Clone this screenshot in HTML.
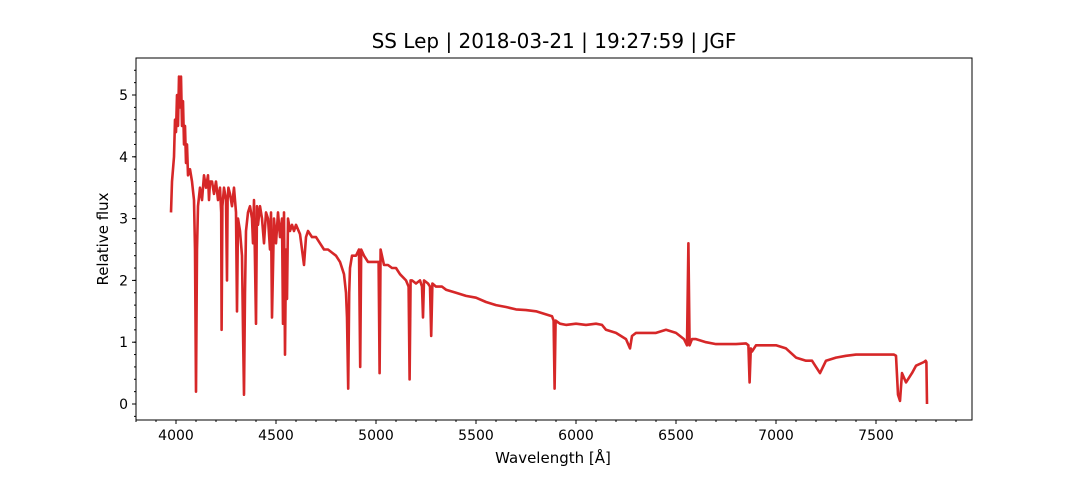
<!DOCTYPE html>
<html><head><meta charset="utf-8"><style>
body{margin:0;background:#fff;font-family:"Liberation Sans","DejaVu Sans",sans-serif}
svg text{font-family:"DejaVu Sans","Liberation Sans",sans-serif}
</style></head><body>
<svg width="1080" height="480" viewBox="0 0 1080 480" id="chart">
<rect width="1080" height="480" fill="#fff"/>
<text x="554" y="48" text-anchor="middle" font-size="20">SS Lep | 2018-03-21 | 19:27:59 | JGF</text>
<g id="marks"></g>
<rect x="136" y="58" width="836" height="362" fill="none" stroke="#000" stroke-width="1"/>
<g id="axes"></g>
<text x="553" y="463" text-anchor="middle" font-size="15">Wavelength [Å]</text>
<text transform="translate(108,239) rotate(-90)" text-anchor="middle" font-size="15">Relative flux</text>
</svg>
<script>
const wavelengths=[
3975,3980,3990,3995,4000,4005,4010,4015,4020,4025,
4030,4035,4040,4045,4050,4055,4060,4070,4080,4090,
4095,4100,4105,4110,4120,4130,4140,4150,4160,4165,
4170,4180,4190,4200,4210,4220,4226,4228,4232,4240,
4250,4255,4258,4262,4270,4280,4290,4300,4305,4310,
4320,4330,4335,4340,4345,4350,4360,4370,4380,4385,
4390,4400,4405,4410,4420,4430,4440,4450,4460,4470,
4475,4480,4490,4500,4510,4520,4530,4535,4540,4545,
4550,4555,4560,4570,4580,4590,4600,4620,4640,4650,
4660,4680,4700,4720,4740,4760,4780,4800,4820,4840,
4850,4855,4861,4866,4870,4880,4900,4915,4921,4926,
4940,4960,4980,5000,5013,5018,5023,5040,5060,5080,
5100,5120,5150,5163,5168,5173,5180,5200,5220,5230,
5235,5240,5260,5270,5276,5282,5300,5330,5350,5400,
5450,5500,5550,5600,5650,5700,5750,5800,5850,5880,
5888,5893,5898,5920,5950,6000,6050,6100,6130,6150,
6200,6250,6270,6280,6300,6350,6400,6450,6500,6540,
6555,6562,6568,6580,6600,6650,6700,6750,6800,6850,
6862,6868,6874,6880,6900,6950,7000,7050,7100,7150,
7180,7200,7220,7250,7300,7350,7400,7450,7500,7550,
7590,7600,7610,7620,7630,7650,7680,7700,7740,7748,
7752,7755];
const fluxes=[
3.1,3.6,4.0,4.6,4.4,5.0,4.5,5.3,4.8,5.3,
4.5,4.9,4.2,4.5,3.9,4.2,3.7,3.8,3.6,3.3,
2.5,0.2,2.5,3.2,3.5,3.3,3.7,3.5,3.7,3.3,
3.6,3.6,3.4,3.6,3.3,3.5,3.1,1.2,3.2,3.5,
3.3,2.0,3.3,3.5,3.4,3.2,3.5,3.1,1.5,3.0,
2.8,2.4,1.2,0.15,1.8,2.8,3.1,3.2,3.0,2.6,
3.3,1.3,3.2,2.9,3.2,3.0,2.6,3.1,3.0,2.5,
3.1,1.4,3.0,2.6,3.1,2.7,3.0,1.3,3.1,0.8,
2.5,1.7,3.0,2.8,2.9,2.8,2.9,2.75,2.25,2.7,
2.8,2.7,2.7,2.6,2.5,2.5,2.45,2.4,2.3,2.1,
1.8,1.4,0.25,1.8,2.2,2.4,2.4,2.5,0.6,2.5,
2.4,2.3,2.3,2.3,2.3,0.5,2.5,2.25,2.25,2.2,
2.2,2.1,2.0,1.9,0.4,2.0,2.0,1.95,2.0,1.9,
1.4,2.0,1.95,1.9,1.1,1.95,1.9,1.9,1.85,1.8,
1.75,1.72,1.65,1.6,1.57,1.53,1.52,1.5,1.45,1.42,
1.35,0.25,1.35,1.3,1.28,1.3,1.28,1.3,1.28,1.2,
1.15,1.05,0.9,1.1,1.15,1.15,1.15,1.2,1.15,1.05,
0.95,2.6,0.95,1.05,1.05,1.0,0.97,0.97,0.97,0.98,
0.95,0.35,0.9,0.85,0.95,0.95,0.95,0.9,0.75,0.7,
0.7,0.6,0.5,0.7,0.75,0.78,0.8,0.8,0.8,0.8,
0.8,0.78,0.15,0.05,0.5,0.35,0.5,0.62,0.68,0.7,
0.68,0.0];
const xTicks=[4000,4500,5000,5500,6000,6500,7000,7500];
const yTicks=[0,1,2,3,4,5];
const xScale=w=>176+(w-4000)*0.2;
const yScale=f=>404-f*61.8;
const NS="http://www.w3.org/2000/svg";
const marks=document.getElementById('marks');
let d="";
const n=Math.min(wavelengths.length,fluxes.length);
for(let i=0;i<n;i++){d+=(i?"L":"M")+xScale(wavelengths[i]).toFixed(1)+","+yScale(fluxes[i]).toFixed(1);}
const p=document.createElementNS(NS,'path');
p.setAttribute('d',d);p.setAttribute('fill','none');p.setAttribute('stroke','#d62728');p.setAttribute('stroke-width','2.6');p.setAttribute('stroke-linejoin','round');


marks.appendChild(p);
const axes=document.getElementById('axes');
function add(tag,attrs,txt){const e=document.createElementNS(NS,tag);for(const k in attrs)e.setAttribute(k,attrs[k]);if(txt!==undefined)e.textContent=txt;axes.appendChild(e);return e;}
xTicks.forEach(t=>{const x=xScale(t);
const l=add('line',{x1:x,x2:x,y1:420,y2:424,stroke:'#000'});


const tx=add('text',{x:x,y:440,'text-anchor':'middle','font-size':14},String(t));

});
for(let w=3800;w<=7950;w+=100){if(w%500===0)continue;const x=xScale(w);add('line',{x1:x,x2:x,y1:420,y2:422,stroke:'#000'});}
yTicks.forEach(t=>{const y=yScale(t);
const l=add('line',{x1:132,x2:136,y1:y,y2:y,stroke:'#000'});


const tx=add('text',{x:128,y:y+5,'text-anchor':'end','font-size':14},String(t));

});
for(let f=-0.2;f<=5.5;f+=0.2){const y=yScale(f);if(y<58||y>420)continue;add('line',{x1:134,x2:136,y1:y,y2:y,stroke:'#000'});}
</script>
</body></html>
